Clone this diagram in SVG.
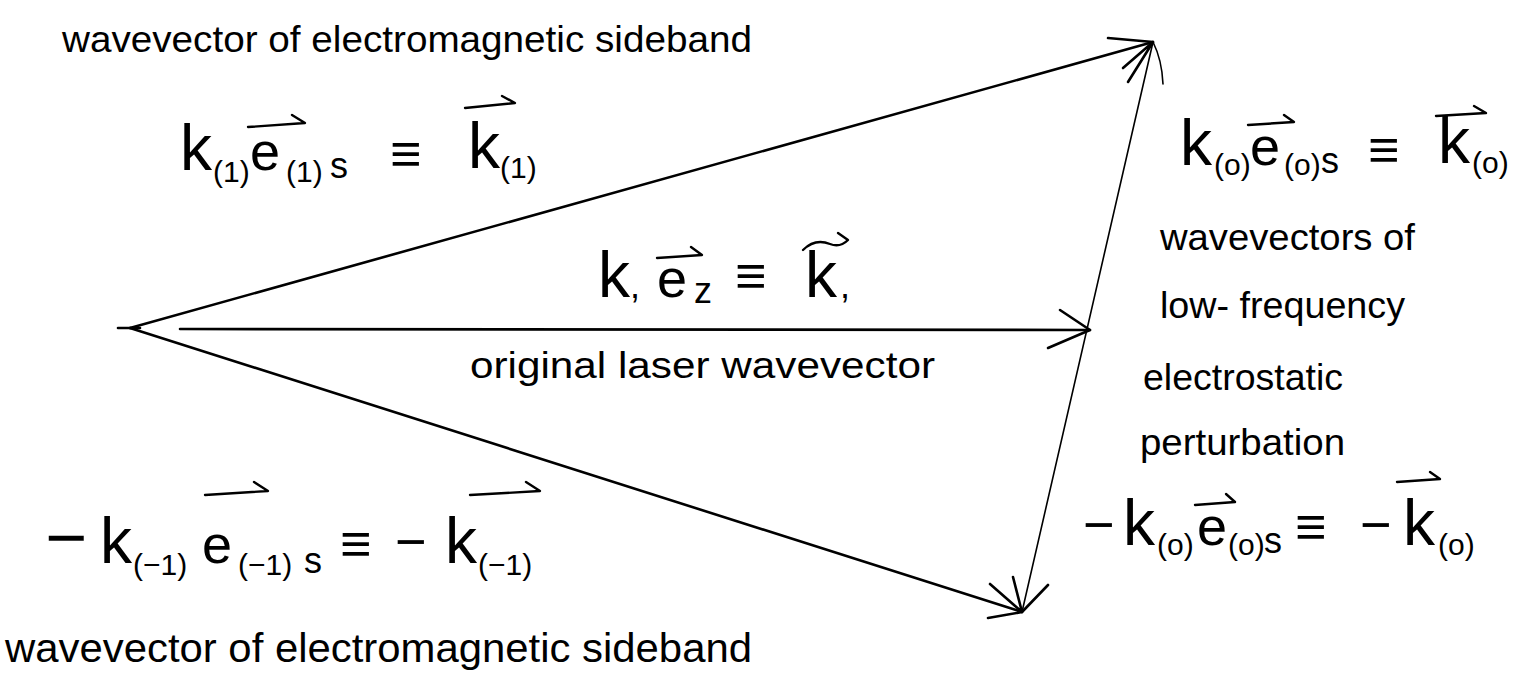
<svg xmlns="http://www.w3.org/2000/svg" width="1516" height="679" viewBox="0 0 1516 679">
<style>
text{font-family:"Liberation Sans",Arial,sans-serif;fill:#000}
.lbl{font-size:36px}
.big{font-size:64px}
.mid{font-size:54px}
.sub{font-size:30px}
.v{stroke:#000;stroke-width:2.6;fill:none;stroke-linecap:round}
.thin{stroke:#000;stroke-width:1.6;fill:none;stroke-linecap:round}
.acc{stroke:#000;stroke-width:2.4;fill:none;stroke-linecap:round;stroke-linejoin:round}
</style>
<rect width="1516" height="679" fill="#fff"/>
<g id="connectors">
<path class="v" d="M130,328 L1153,42"/>
<path class="v" d="M180,329 L1090,330"/>
<path class="v" d="M130,328 L1022,612"/>
<path class="thin" d="M1153,42 L1022,612"/>
<path class="v" d="M1153,42 L1108,38 M1153,42 L1123,68 M1153,42 L1128,82"/>
<path class="thin" d="M1153,42 Q1162,60 1163,84"/>
<path class="v" d="M1090,330 L1060,310 M1090,330 L1048,348"/>
<path class="v" d="M1022,612 L990,584 M1022,612 L1013,577 M1022,612 L1048,585 M1022,612 L988,618"/>
<path class="v" d="M118,328 L140,328"/>
</g>
<g id="label-top">
<text class="lbl" x="62" y="52" textLength="690" lengthAdjust="spacingAndGlyphs">wavevector of electromagnetic sideband</text>
</g>
<g id="eq-k1">
<text class="big" x="180" y="170">k</text>
<text class="sub" x="213" y="182">(1)</text>
<text class="mid" x="250" y="170">e</text>
<path class="acc" d="M248,127 L305,123 L292,115"/>
<text class="sub" x="286" y="182">(1)</text>
<text class="lbl" x="330" y="178">s</text>
<text class="mid" x="390" y="172">≡</text>
<text class="big" x="468" y="168">k</text>
<path class="acc" d="M465,108 L515,103 L502,96"/>
<text class="sub" x="500" y="178">(1)</text>
</g>
<g id="eq-k0">
<text class="big" x="1180" y="165">k</text>
<text class="sub" x="1214" y="175">(o)</text>
<text class="mid" x="1250" y="165">e</text>
<path class="acc" d="M1248,125 L1294,122 L1284,115"/>
<text class="sub" x="1284" y="175">(o)</text>
<text class="lbl" x="1321" y="173">s</text>
<text class="mid" x="1368" y="168">≡</text>
<text class="big" x="1438" y="163">k</text>
<path class="acc" d="M1436,116 L1486,113 L1474,106"/>
<text class="sub" x="1472" y="173">(o)</text>
</g>
<g id="label-low-freq">
<text class="lbl" x="1160" y="250" textLength="255" lengthAdjust="spacingAndGlyphs">wavevectors of</text>
<text class="lbl" x="1160" y="318" textLength="245" lengthAdjust="spacingAndGlyphs">low- frequency</text>
<text class="lbl" x="1143" y="390" textLength="200" lengthAdjust="spacingAndGlyphs">electrostatic</text>
<text class="lbl" x="1140" y="455" textLength="205" lengthAdjust="spacingAndGlyphs">perturbation</text>
</g>
<g id="eq-k">
<text class="big" x="598" y="297">k</text>
<text class="lbl" x="630" y="298">,</text>
<text class="mid" x="657" y="297">e</text>
<path class="acc" d="M657,258 L702,255 L691,247"/>
<text class="lbl" x="694" y="303">z</text>
<text class="mid" x="735" y="294">≡</text>
<text class="big" x="805" y="297">k</text>
<path class="acc" d="M803,250 Q815,238 830,244 Q840,248 848,240 L838,233"/>
<text class="lbl" x="840" y="298">,</text>
</g>
<g id="label-original">
<text class="lbl" x="470" y="378" textLength="465" lengthAdjust="spacingAndGlyphs">original laser wavevector</text>
</g>
<g id="eq-km1">
<text x="45" y="562" style="font-size:72px">−</text>
<text class="big" x="100" y="563">k</text>
<text class="sub" x="133" y="575">(−1)</text>
<text class="mid" x="202" y="563">e</text>
<path class="acc" d="M205,495 L268,491 L254,482"/>
<text class="sub" x="238" y="575">(−1)</text>
<text class="lbl" x="304" y="573">s</text>
<text class="mid" x="340" y="562">≡</text>
<text class="mid" x="395" y="560">−</text>
<text class="big" x="445" y="563">k</text>
<path class="acc" d="M470,495 L540,491 L526,482"/>
<text class="sub" x="478" y="575">(−1)</text>
</g>
<g id="eq-mk0">
<text class="mid" x="1083" y="543">−</text>
<text class="big" x="1123" y="545">k</text>
<text class="sub" x="1157" y="555">(o)</text>
<text class="mid" x="1197" y="545">e</text>
<path class="acc" d="M1195,505 L1235,502 L1226,494"/>
<text class="sub" x="1228" y="555">(o)</text>
<text class="lbl" x="1264" y="553">s</text>
<text class="mid" x="1295" y="545">≡</text>
<text class="mid" x="1360" y="543">−</text>
<text class="big" x="1403" y="545">k</text>
<path class="acc" d="M1397,482 L1440,479 L1430,472"/>
<text class="sub" x="1438" y="555">(o)</text>
</g>
<g id="label-bottom">
<text x="5" y="662" style="font-size:40px" textLength="747" lengthAdjust="spacingAndGlyphs">wavevector of electromagnetic sideband</text>
</g>
</svg>
